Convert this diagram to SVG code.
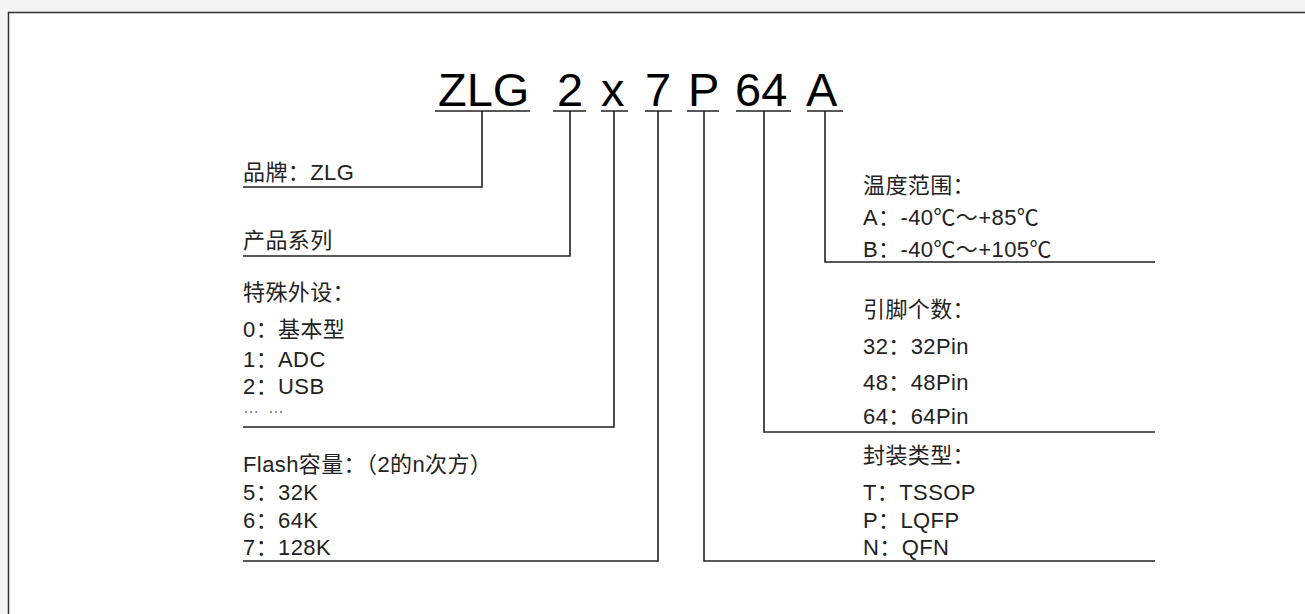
<svg xmlns="http://www.w3.org/2000/svg" width="1305" height="614" viewBox="0 0 1305 614">
<style>
.t{font-family:"Liberation Sans","Noto Sans CJK SC",sans-serif;font-size:22px;letter-spacing:0.4px;fill:#222;}
.big{font-family:"Liberation Sans",Arial,sans-serif;font-size:47px;fill:#000;}
.ln{stroke:#222;stroke-width:1.6;fill:none;}
</style>
<rect x="0" y="0" width="1305" height="614" fill="#f4f4f4"/>
<rect x="8" y="12" width="1297" height="602" fill="#fff"/>
<path d="M8.5,614 V12.5 H1305" stroke="#333" stroke-width="1.5" fill="none"/>
<g id="title">
<text class="big" x="438" y="106">ZLG</text>
<text class="big" x="557" y="106">2</text>
<text class="big" x="601" y="106">x</text>
<text class="big" x="645" y="106">7</text>
<text class="big" x="688" y="106">P</text>
<text class="big" x="735" y="106">64</text>
<text class="big" x="806" y="106">A</text>
</g>
<g id="connectors" class="ln">
<path d="M435,111 H530 M553,111 H586 M601,111 H628 M645,111 H672 M687,111 H719 M736,111 H791 M807,111 H843"/>
<path d="M482,111 V187 H243"/>
<path d="M570,111 V256 H243"/>
<path d="M614,111 V427 H243"/>
<path d="M658,111 V561 H243"/>
<path d="M704,111 V561 H1155"/>
<path d="M764,111 V432 H1155"/>
<path d="M825,111 V262 H1155"/>
</g>
<g id="brand"><text class="t" x="243" y="180">品牌：ZLG</text></g>
<g id="series"><text class="t" x="243" y="248">产品系列</text></g>
<g id="peripheral">
<text class="t" x="243" y="300">特殊外设：</text>
<text class="t" x="243" y="337">0：基本型</text>
<text class="t" x="243" y="367">1：ADC</text>
<text class="t" x="243" y="394">2：USB</text>
<text class="t" x="243" y="413" style="font-size:16px;letter-spacing:9px;fill:#666">……</text>
</g>
<g id="flash">
<text class="t" x="243" y="472">Flash容量：（2的n次方）</text>
<text class="t" x="243" y="500">5：32K</text>
<text class="t" x="243" y="528">6：64K</text>
<text class="t" x="243" y="555">7：128K</text>
</g>
<g id="temp">
<text class="t" x="863" y="193">温度范围：</text>
<text class="t" x="863" y="225">A：-40℃～+85℃</text>
<text class="t" x="863" y="257">B：-40℃～+105℃</text>
</g>
<g id="pins">
<text class="t" x="863" y="317">引脚个数：</text>
<text class="t" x="863" y="354">32：32Pin</text>
<text class="t" x="863" y="390">48：48Pin</text>
<text class="t" x="863" y="424">64：64Pin</text>
</g>
<g id="package">
<text class="t" x="863" y="463">封装类型：</text>
<text class="t" x="863" y="500">T：TSSOP</text>
<text class="t" x="863" y="528">P：LQFP</text>
<text class="t" x="863" y="555">N：QFN</text>
</g>
</svg>
